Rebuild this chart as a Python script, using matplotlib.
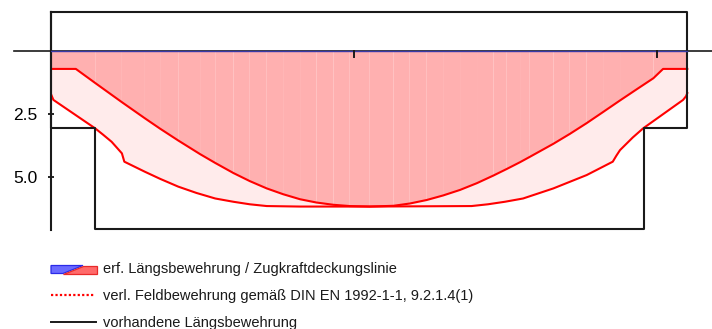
import numpy as np
import matplotlib
matplotlib.use("Agg")
import matplotlib.pyplot as plt
from matplotlib.patches import Polygon

plt.rcParams["font.family"] = ["Liberation Sans", "DejaVu Sans"]

# ------------ Daten (x in m, As in cm²) -----------------

# erf. Längsbewehrung (Zugkraftlinie ohne Versatz)
x_erf = [0.00, 0.41, 0.73, 1.17, 1.55, 1.80, 2.10, 2.46, 2.71, 3.01, 3.28, 3.56,
         3.83, 4.11, 4.38, 4.66, 4.93, 5.26, 5.65, 5.92, 6.20, 6.47, 6.75, 7.03,
         7.30, 7.52, 7.74, 7.90, 8.29, 8.56, 8.84, 9.11, 9.39, 9.67, 9.94, 10.10,
         10.50]
as_erf = [0.71, 0.71, 1.27, 2.03, 2.67, 3.08, 3.55, 4.09, 4.44, 4.84, 5.16, 5.45,
          5.68, 5.88, 6.01, 6.10, 6.15, 6.17, 6.14, 6.05, 5.91, 5.73, 5.51, 5.24,
          4.94, 4.68, 4.41, 4.20, 3.68, 3.29, 2.86, 2.42, 1.96, 1.51, 1.08, 0.71,
          0.71]

# Zugkraftdeckungslinie (um a_l versetzt)
x_zdl = [0.00, 0.04, 0.73, 0.86, 1.00, 1.10, 1.17, 1.21, 1.55, 1.80, 2.10, 2.40,
         2.71, 3.01, 3.28, 3.56, 4.11, 5.26, 6.94, 7.21, 7.49, 7.79, 8.29, 8.84,
         9.27, 9.33, 9.39, 9.60, 9.77, 10.43, 10.48, 10.50]
as_zdl = [1.71, 1.94, 3.07, 3.32, 3.60, 3.87, 4.06, 4.39, 4.79, 5.07, 5.38, 5.63,
          5.85, 5.98, 6.08, 6.15, 6.17, 6.17, 6.15, 6.08, 5.98, 5.85, 5.45, 4.92,
          4.39, 4.15, 3.93, 3.43, 3.07, 1.94, 1.79, 1.67]

# erf. obere Längsbewehrung
x_oben = [0.00, 10.50]
as_oben = [0.00, 0.00]

# vorhandene Längsbewehrung (oben / unten mit Staffelung)
x_vorh = [0.00, 10.50, 10.50, 9.78, 9.78, 0.73, 0.73, 0.00, 0.00]
as_vorh = [-1.55, -1.55, 3.06, 3.06, 7.06, 7.06, 3.06, 3.06, -1.55]

y_ticks = [2.5, 5.0]
x_ticks = [0, 5, 10]

legend_labels = [
    "erf. Längsbewehrung / Zugkraftdeckungslinie",
    "verl. Feldbewehrung gemäß DIN EN 1992-1-1, 9.2.1.4(1)",
    "vorhandene Längsbewehrung",
]

# ------------ Plot -----------------

fig = plt.figure(figsize=(7.12, 3.29), dpi=100)
ax = fig.add_axes([51 / 712, 1 - 230 / 329, 661 / 712, 218 / 329])
x_max = 661 / 60.6
ax.set_xlim(0, x_max)
ax.set_ylim(7.1, -1.548)

# Flächen: hell zwischen den Linien, dunkel bis zur erf. Bewehrung
band = np.concatenate([np.column_stack([x_erf, as_erf]),
                       np.column_stack([x_zdl, as_zdl])[::-1]])
ax.add_patch(Polygon(band, closed=True, facecolor="#ffebeb", edgecolor="none", zorder=1))
for i in range(len(x_erf) - 1):
    ax.fill_between(x_erf[i:i + 2], 0, as_erf[i:i + 2], facecolor="#ffb0b0",
                    edgecolor="none", zorder=2)

ax.plot(x_zdl, as_zdl, color="#ff0000", lw=1.5, zorder=3, solid_joinstyle="round")
ax.plot(x_erf, as_erf, color="#ff0000", lw=1.5, zorder=3, solid_joinstyle="round")

ax.plot(x_vorh, as_vorh, color="#1a1a1a", lw=1.5, zorder=4, clip_on=False)

# Nulllinie + obere Bewehrung
ax.plot([-0.61, x_max], [0, 0], color="#1a1a1a", lw=1.2, zorder=5, clip_on=False)
ax.plot(x_oben, as_oben, color="#3a3aa8", lw=1.0, zorder=6)

# Achsen
for s in ["top", "right", "bottom"]:
    ax.spines[s].set_visible(False)
ax.spines["left"].set_linewidth(1.5)
ax.spines["left"].set_color("#1a1a1a")
ax.set_yticks(y_ticks)
ax.set_yticklabels([f"{v:.1f}" for v in y_ticks])
ax.tick_params(axis="y", direction="inout", length=4, width=1.2, labelsize=12.5, pad=8)
ax.set_xticks([])
for xt in x_ticks[1:]:
    ax.plot([xt, xt], [0, 0.25], color="#1a1a1a", lw=1.4, zorder=7, clip_on=False)

# ------------ Legende -----------------

lg = fig.add_axes([0, 0, 1, 1], facecolor="none")
lg.set_xlim(0, 712)
lg.set_ylim(329, 0)
lg.axis("off")

lg.add_patch(Polygon([[51, 265.5], [83, 265.5], [63, 273.5], [51, 273.5]],
                     closed=True, facecolor="#6a6aff", edgecolor="#2a2ae8", lw=0.9))
lg.add_patch(Polygon([[83, 265.5], [96.5, 265.5], [96.5, 273.5], [63, 273.5]],
                     closed=True, facecolor="#ff6a6a", edgecolor="#e82a2a", lw=0.9))
lg.plot([51, 94], [295, 295], color="#ff0000", lw=1.6, ls=(0, (1, 1)))
lg.plot([51, 96], [322, 322], color="#1a1a1a", lw=1.4)

for yy, txt in zip([269, 296, 323], legend_labels):
    lg.text(103, yy, txt, fontsize=10.5, va="center", ha="left", color="#1a1a1a")

fig.savefig("out.png", dpi=100)
